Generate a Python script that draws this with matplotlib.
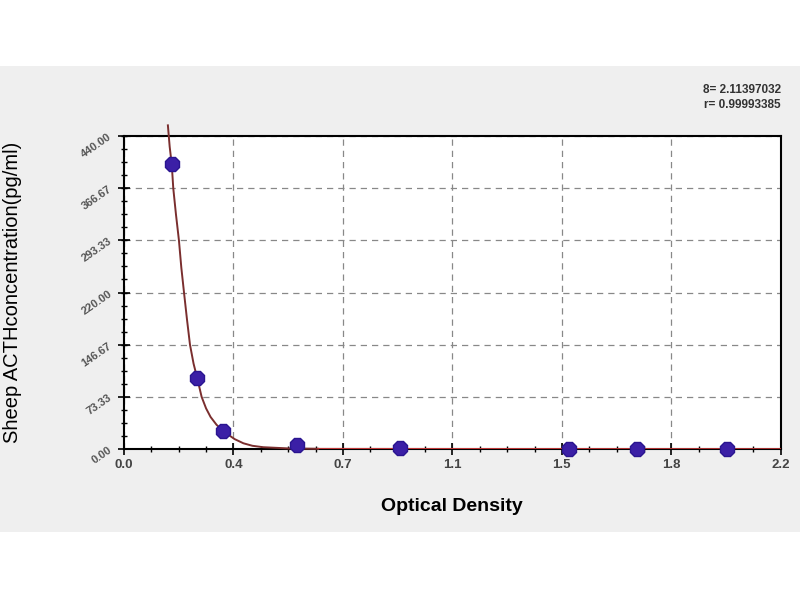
import matplotlib.pyplot as plt
import numpy as np
from matplotlib.ticker import AutoMinorLocator, FixedLocator

# standard points (optical density vs concentration)
od = [0.160, 0.245, 0.333, 0.580, 0.925, 1.490, 1.720, 2.020]
conc = [400.0, 100.0, 25.0, 6.25, 1.56, 0.39, 0.10, 0.0]

# fitted curve
curve_od = [0.147, 0.153, 0.160, 0.165, 0.174, 0.184, 0.192, 0.201, 0.211, 0.221, 0.233, 0.245,
            0.260, 0.275, 0.290, 0.310, 0.333, 0.370, 0.400, 0.430, 0.466, 0.550, 0.650]
curve_conc = [455.0, 425.0, 400.0, 366.7, 330.0, 293.3, 255.0, 220.0, 182.0, 146.7, 120.0, 100.0,
              73.3, 57.0, 45.0, 34.0, 25.0, 14.0, 8.0, 4.5, 2.5, 0.8, 0.3]
baseline_od = [0.650, 2.2]
baseline_conc = [0.3, 0.0]

x_ticks = [0.0, 2.2 / 6, 4.4 / 6, 1.1, 8.8 / 6, 11.0 / 6, 2.2]
x_labels = ["0.0", "0.4", "0.7", "1.1", "1.5", "1.8", "2.2"]
y_ticks = [0.0, 73.33, 146.67, 220.0, 293.33, 366.67, 440.0]
y_labels = ["0.00", "73.33", "146.67", "220.00", "293.33", "366.67", "440.00"]

fit_text = "8= 2.11397032\nr= 0.99993385"

narrow = ["Liberation Sans Narrow", "Liberation Sans", "DejaVu Sans"]

fig = plt.figure(figsize=(8, 6), dpi=100)
fig.patch.set_facecolor("white")
fig.add_artist(plt.Rectangle((0, 0.113), 1, 0.777, transform=fig.transFigure,
                             facecolor="#efefef", edgecolor="none", zorder=0))

ax = fig.add_axes([0.155, 0.2517, 0.821, 0.5216])
ax.set_facecolor("white")

# curve may poke slightly above the frame like the reference
ax.plot(curve_od, curve_conc, color="#7a2e2e", lw=1.4, zorder=3, clip_on=False)
ax.plot(baseline_od, baseline_conc, color="#c03838", lw=1.2, zorder=3)
ax.plot(od, conc, linestyle="none", marker="8", markersize=10.5,
        color="#3b1fa6", markeredgecolor="#2a1590", zorder=4, clip_on=False)

ax.set_xlim(0, 2.2)
ax.set_ylim(0, 440)
ax.xaxis.set_major_locator(FixedLocator(x_ticks))
ax.yaxis.set_major_locator(FixedLocator(y_ticks))
ax.set_xticklabels(x_labels)
ax.set_yticklabels(y_labels)
ax.xaxis.set_minor_locator(AutoMinorLocator(4))
ax.yaxis.set_minor_locator(AutoMinorLocator(4))
ax.tick_params(which="major", direction="inout", length=8, width=1.2, colors="black")
ax.tick_params(which="minor", direction="inout", length=5, width=1.0)
ax.tick_params(axis="x", labelsize=9.5, labelcolor="#444444")
ax.tick_params(axis="y", labelsize=8, labelcolor="#555555", right=False)
for lab in ax.get_xticklabels():
    lab.set_family(narrow)
    lab.set_fontweight("bold")
for lab in ax.get_yticklabels():
    lab.set_family(narrow)
    lab.set_fontweight("bold")
    lab.set_rotation(35)

for s in ax.spines.values():
    s.set_linewidth(1.5)
    s.set_color("black")

ax.grid(True, which="major", linestyle=(0, (5, 4)), color="#888888", lw=0.9)

ax.set_xlabel("Optical Density", fontsize=14, fontweight="bold", family=narrow)
ax.set_ylabel("Sheep ACTHconcentration(pg/ml)", fontsize=14.5, family=narrow)
ax.xaxis.set_label_coords(0.499, -0.157)
ax.yaxis.set_label_coords(-0.155, 0.5)

fig.text(0.976, 0.838, fit_text, ha="right", va="center", fontsize=8.5,
         fontweight="bold", family=narrow, color="#333333", linespacing=1.3)

fig.savefig("out.png", dpi=100)
